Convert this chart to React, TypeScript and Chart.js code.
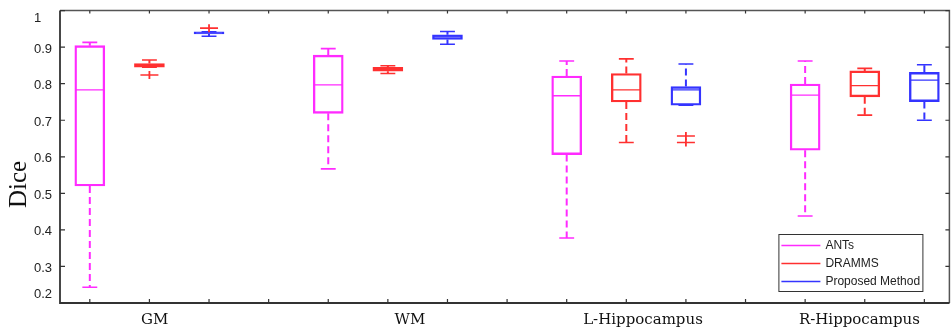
import React, { useEffect, useRef } from "react";
import { Chart, registerables } from "chart.js";

Chart.register(...registerables);

// ---- data ----
const groups = ["GM", "WM", "L-Hippocampus", "R-Hippocampus"];
const methods = ["ANTs", "DRAMMS", "Proposed Method"];

// x positions (slot index) of each method's box in the four groups
const antsSlots = [1, 5, 9, 13];
const drammsSlots = [2, 6, 10, 14];
const proposedSlots = [3, 7, 11, 15];
const xTickSlots = [1, 2, 3, 4, 5, 6, 7, 8, 9, 10, 11, 12, 13, 14, 15];

const antsMin = [0.243, 0.567, 0.378, 0.438];
const antsQ1 = [0.52, 0.719, 0.606, 0.618];
const antsMedian = [0.783, 0.797, 0.767, 0.769];
const antsQ3 = [0.904, 0.878, 0.821, 0.799];
const antsMax = [0.913, 0.896, 0.862, 0.862];

const drammsMin = [0.845, 0.828, 0.639, 0.714];
const drammsQ1 = [0.845, 0.834, 0.75, 0.764];
const drammsMedian = [0.85, 0.84, 0.783, 0.795];
const drammsQ3 = [0.855, 0.845, 0.828, 0.835];
const drammsMax = [0.865, 0.849, 0.868, 0.842];

const proposedMin = [0.93, 0.908, 0.741, 0.7];
const proposedQ1 = [0.936, 0.921, 0.741, 0.751];
const proposedMedian = [0.939, 0.928, 0.783, 0.81];
const proposedQ3 = [0.942, 0.934, 0.792, 0.831];
const proposedMax = [0.942, 0.943, 0.854, 0.852];

const outlierSlots = [2, 3, 11, 11];
const outlierValues = [0.824, 0.952, 0.657, 0.639];

const yTickValues = [0.2, 0.3, 0.4, 0.5, 0.6, 0.7, 0.8, 0.9, 1.0];
const yTickLabels = ["0.2", "0.3", "0.4", "0.5", "0.6", "0.7", "0.8", "0.9", "1"];
const yTitle = "Dice";

// ---- styles / layout ----
const colors = ["#ff2bff", "#ff3030", "#3434ff"];
const outlierColor = "#ff3030";
const groupLabelSlot = [2.09, 6.37, 10.28, 13.91];
const HALF = 0.235;
const CAP = 0.125;

function buildDatasets() {
  const slots = [antsSlots, drammsSlots, proposedSlots];
  const stats = [
    { min: antsMin, q1: antsQ1, med: antsMedian, q3: antsQ3, max: antsMax },
    { min: drammsMin, q1: drammsQ1, med: drammsMedian, q3: drammsQ3, max: drammsMax },
    { min: proposedMin, q1: proposedQ1, med: proposedMedian, q3: proposedQ3, max: proposedMax },
  ];
  const ds: any[] = [];
  stats.forEach((s, m) => {
    const pos = slots[m];
    ds.push({
      type: "bar",
      label: methods[m],
      data: pos.map((p, i) => ({ x: p, y: [s.q1[i], s.q3[i]] })),
      backgroundColor: "rgba(255,255,255,0)",
      borderColor: colors[m],
      borderWidth: 1.7,
      borderSkipped: false,
      barThickness: 30,
      grouped: false,
      order: 3,
    });
    const whisk: any[] = [];
    const caps: any[] = [];
    const meds: any[] = [];
    pos.forEach((p, i) => {
      whisk.push({ x: p, y: s.q3[i] }, { x: p, y: s.max[i] }, { x: p, y: null });
      whisk.push({ x: p, y: s.q1[i] }, { x: p, y: s.min[i] }, { x: p, y: null });
      caps.push({ x: p - CAP, y: s.max[i] }, { x: p + CAP, y: s.max[i] }, { x: p, y: null });
      caps.push({ x: p - CAP, y: s.min[i] }, { x: p + CAP, y: s.min[i] }, { x: p, y: null });
      meds.push({ x: p - HALF, y: s.med[i] }, { x: p + HALF, y: s.med[i] }, { x: p, y: null });
    });
    ds.push({
      type: "line",
      data: whisk,
      borderColor: colors[m],
      borderWidth: 2,
      borderDash: [7, 4],
      pointRadius: 0,
      spanGaps: false,
      fill: false,
      order: 2,
    });
    ds.push({
      type: "line",
      data: caps,
      borderColor: colors[m],
      borderWidth: 1.6,
      pointRadius: 0,
      spanGaps: false,
      fill: false,
      order: 2,
    });
    ds.push({
      type: "line",
      data: meds,
      borderColor: colors[m],
      borderWidth: 1.3,
      pointRadius: 0,
      spanGaps: false,
      fill: false,
      order: 2,
    });
  });
  const outData = outlierSlots.map((p, i) => ({ x: p, y: outlierValues[i] }));
  ds.push({
    type: "line",
    data: outData,
    showLine: false,
    pointStyle: "line",
    pointRadius: 9,
    pointRotation: 0,
    pointBorderColor: outlierColor,
    pointBorderWidth: 1.6,
    order: 1,
  });
  ds.push({
    type: "line",
    data: outData,
    showLine: false,
    pointStyle: "line",
    pointRadius: 4,
    pointRotation: 90,
    pointBorderColor: outlierColor,
    pointBorderWidth: 1.8,
    order: 1,
  });
  return ds;
}

const framePlugin = {
  id: "matlabFrame",
  beforeDatasetsDraw(chart: any) {
    const { ctx, chartArea: a, scales } = chart;
    const xs = scales.x;
    const ys = scales.y;
    ctx.save();
    ctx.lineCap = "butt";
    // top & right
    ctx.strokeStyle = "#555";
    ctx.lineWidth = 1.5;
    ctx.beginPath();
    ctx.moveTo(a.left, a.top);
    ctx.lineTo(a.right, a.top);
    ctx.lineTo(a.right, a.bottom);
    ctx.stroke();
    // left & bottom
    ctx.strokeStyle = "#333";
    ctx.lineWidth = 1.8;
    ctx.beginPath();
    ctx.moveTo(a.left, a.top);
    ctx.lineTo(a.left, a.bottom);
    ctx.lineTo(a.right, a.bottom);
    ctx.stroke();
    // inward ticks
    ctx.strokeStyle = "#333";
    ctx.lineWidth = 1.2;
    ctx.beginPath();
    xTickSlots.forEach((v) => {
      const px = xs.getPixelForValue(v);
      ctx.moveTo(px, a.bottom);
      ctx.lineTo(px, a.bottom - 4);
      ctx.moveTo(px, a.top);
      ctx.lineTo(px, a.top + 3);
    });
    yTickValues.forEach((v) => {
      const py = ys.getPixelForValue(v);
      ctx.moveTo(a.left, py);
      ctx.lineTo(a.left + 5, py);
      ctx.moveTo(a.right, py);
      ctx.lineTo(a.right - 4, py);
    });
    ctx.stroke();
    ctx.restore();
  },
  afterDraw(chart: any) {
    const { ctx, chartArea: a, scales } = chart;
    const xs = scales.x;
    const ys = scales.y;
    ctx.save();
    // y tick labels
    ctx.fillStyle = "#222";
    ctx.font = "13px 'Liberation Sans', Arial, sans-serif";
    ctx.textAlign = "left";
    ctx.textBaseline = "middle";
    yTickValues.forEach((v, i) => {
      let py = ys.getPixelForValue(v) + 2;
      py = Math.max(a.top + 8, Math.min(a.bottom - 9, py));
      ctx.fillText(yTickLabels[i], a.left - 26, py);
    });
    // group labels
    ctx.fillStyle = "#111";
    ctx.font = "15px 'DejaVu Serif', serif";
    ctx.textAlign = "center";
    ctx.textBaseline = "alphabetic";
    groups.forEach((g, i) => {
      ctx.fillText(g, xs.getPixelForValue(groupLabelSlot[i]), a.bottom + 21);
    });
    // y title
    ctx.save();
    ctx.translate(a.left - 40.5, 184.5);
    ctx.rotate(-Math.PI / 2);
    ctx.font = "25px 'Liberation Serif', 'Times New Roman', serif";
    ctx.fillStyle = "#111";
    ctx.textAlign = "center";
    ctx.textBaseline = "middle";
    ctx.fillText(yTitle, 0, 0);
    ctx.restore();
    // legend
    const lx = a.right - 171;
    const ly = a.bottom - 69;
    const lw = 144;
    const lh = 57;
    ctx.fillStyle = "#fff";
    ctx.fillRect(lx, ly, lw, lh);
    ctx.strokeStyle = "#333";
    ctx.lineWidth = 1;
    ctx.strokeRect(lx + 0.5, ly + 0.5, lw, lh);
    ctx.font = "12px 'Liberation Sans', Arial, sans-serif";
    ctx.textAlign = "left";
    ctx.textBaseline = "middle";
    methods.forEach((m, i) => {
      const ry = ly + 11.5 + i * 18;
      ctx.strokeStyle = colors[i];
      ctx.lineWidth = 1.3;
      ctx.beginPath();
      ctx.moveTo(lx + 3, ry);
      ctx.lineTo(lx + 42, ry);
      ctx.stroke();
      ctx.fillStyle = "#222";
      ctx.fillText(m, lx + 47, ry);
    });
    ctx.restore();
  },
};

export default function App() {
  const ref = useRef<HTMLCanvasElement | null>(null);
  useEffect(() => {
    if (!ref.current) return;
    const chart = new Chart(ref.current, {
      type: "bar",
      data: { datasets: buildDatasets() },
      options: {
        responsive: false,
        animation: false,
        events: [],
        layout: { padding: { left: 60, top: 5, right: 8, bottom: 29 } },
        plugins: { legend: { display: false }, tooltip: { enabled: false } },
        scales: {
          x: { type: "linear", display: false, offset: false, min: 0.5, max: 15.42 },
          y: { type: "linear", display: false, min: 0.2, max: 1.0 },
        },
      } as any,
      plugins: [framePlugin as any],
    });
    return () => chart.destroy();
  }, []);
  return (
    <div
      style={{
        position: "fixed",
        left: 0,
        top: 0,
        width: 951,
        height: 332,
        overflow: "hidden",
        background: "#fff",
      }}
    >
      <canvas ref={ref} width={960} height={332} style={{ display: "block" }} />
    </div>
  );
}
